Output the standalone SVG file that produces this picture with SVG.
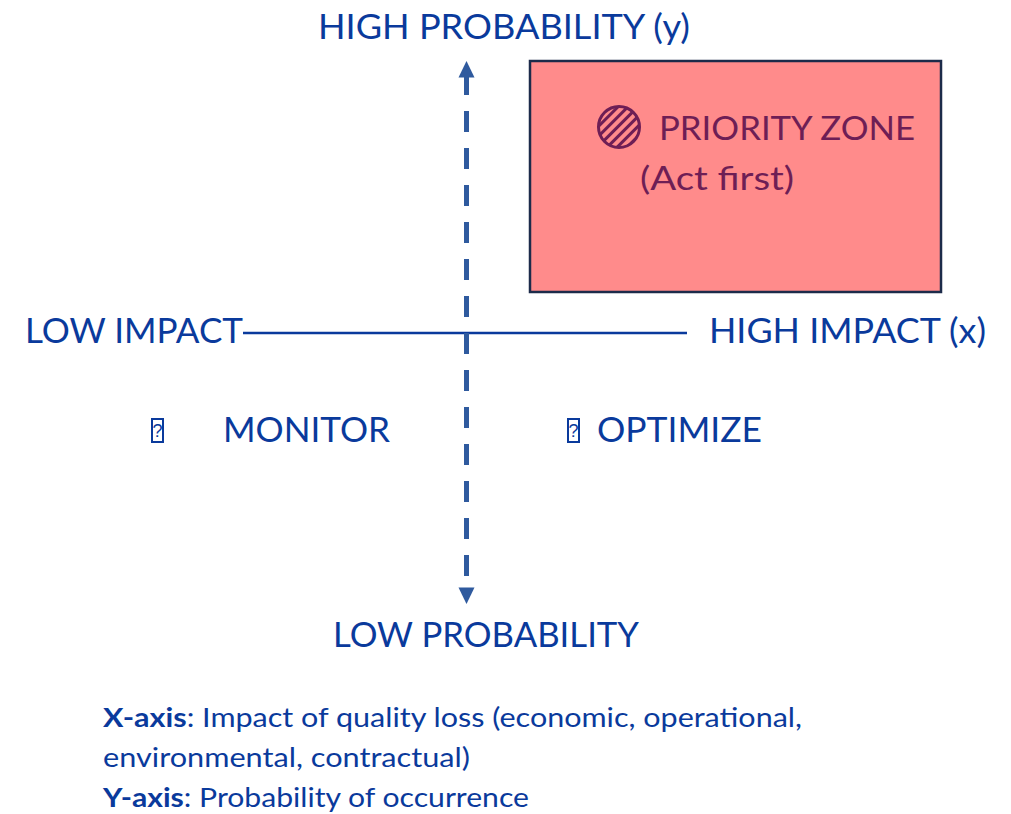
<svg xmlns="http://www.w3.org/2000/svg" width="1011" height="814" viewBox="0 0 1011 814">
<style>
.lbl{font-family:Lato,"Open Sans","Liberation Sans",sans-serif;fill:#0A3A9C;font-size:34.5px}
.pz{font-family:Lato,"Open Sans","Liberation Sans",sans-serif;fill:#6E1E55;font-size:32.5px}
.note{font-family:Lato,"Open Sans","Liberation Sans",sans-serif;fill:#0A3A9C;font-size:26.5px}
.tofu{fill:none;stroke:#0A3A9C;stroke-width:2}
.tq{font-family:"Liberation Sans",sans-serif;fill:#0A3A9C;font-size:18px}
</style>
<defs>
<pattern id="hatch" patternUnits="userSpaceOnUse" width="7" height="7" patternTransform="rotate(45)">
<rect width="7" height="7" fill="#FF8B8B"/>
<rect x="0" y="0" width="3" height="7" fill="#6E1E55"/>
</pattern>
</defs>
<rect width="1011" height="814" fill="#ffffff"/>

<g id="priority-zone">
<rect x="530" y="61" width="411" height="231" fill="#FF8B8B" stroke="#1C2B4A" stroke-width="2.5"/>
<circle cx="619" cy="127" r="20.5" fill="url(#hatch)" stroke="#6E1E55" stroke-width="3"/>
<text class="pz" x="659" y="140" textLength="256" lengthAdjust="spacingAndGlyphs">PRIORITY ZONE</text>
<text class="pz" x="640" y="190" textLength="154" lengthAdjust="spacingAndGlyphs">(Act first)</text>
</g>

<g id="connectors">
<line x1="243" y1="333" x2="687" y2="333" stroke="#0A3A9C" stroke-width="2.5"/>
<line x1="466.5" y1="74" x2="466.5" y2="588" stroke="#2F5A9E" stroke-width="5" stroke-dasharray="21 16"/>
<polygon points="466.5,61 458.5,77.5 474.5,77.5" fill="#2F5A9E"/>
<polygon points="466.5,604 458.5,587.5 474.5,587.5" fill="#2F5A9E"/>
</g>

<g id="high-probability">
<text class="lbl" x="318" y="39" textLength="372" lengthAdjust="spacingAndGlyphs">HIGH PROBABILITY (y)</text>
</g>
<g id="low-probability">
<text class="lbl" x="333" y="647" textLength="306" lengthAdjust="spacingAndGlyphs">LOW PROBABILITY</text>
</g>
<g id="low-impact">
<text class="lbl" x="25" y="343" textLength="218" lengthAdjust="spacingAndGlyphs">LOW IMPACT</text>
</g>
<g id="high-impact">
<text class="lbl" x="709" y="343" textLength="277" lengthAdjust="spacingAndGlyphs">HIGH IMPACT (x)</text>
</g>
<g id="monitor">
<rect class="tofu" x="152" y="419" width="11" height="23"/>
<text class="tq" x="157.5" y="437" text-anchor="middle">?</text>
<text class="lbl" x="223" y="442" textLength="167" lengthAdjust="spacingAndGlyphs">MONITOR</text>
</g>
<g id="optimize">
<rect class="tofu" x="568" y="419" width="11" height="23"/>
<text class="tq" x="573.5" y="437" text-anchor="middle">?</text>
<text class="lbl" x="597" y="442" textLength="165" lengthAdjust="spacingAndGlyphs">OPTIMIZE</text>
</g>

<g id="axis-notes">
<text class="note" x="103" y="727" textLength="699" lengthAdjust="spacingAndGlyphs"><tspan font-weight="bold">X-axis</tspan>: Impact of quality loss (economic, operational,</text>
<text class="note" x="103" y="767" textLength="367" lengthAdjust="spacingAndGlyphs">environmental, contractual)</text>
<text class="note" x="103" y="807" textLength="426" lengthAdjust="spacingAndGlyphs"><tspan font-weight="bold">Y-axis</tspan>: Probability of occurrence</text>
</g>
</svg>
